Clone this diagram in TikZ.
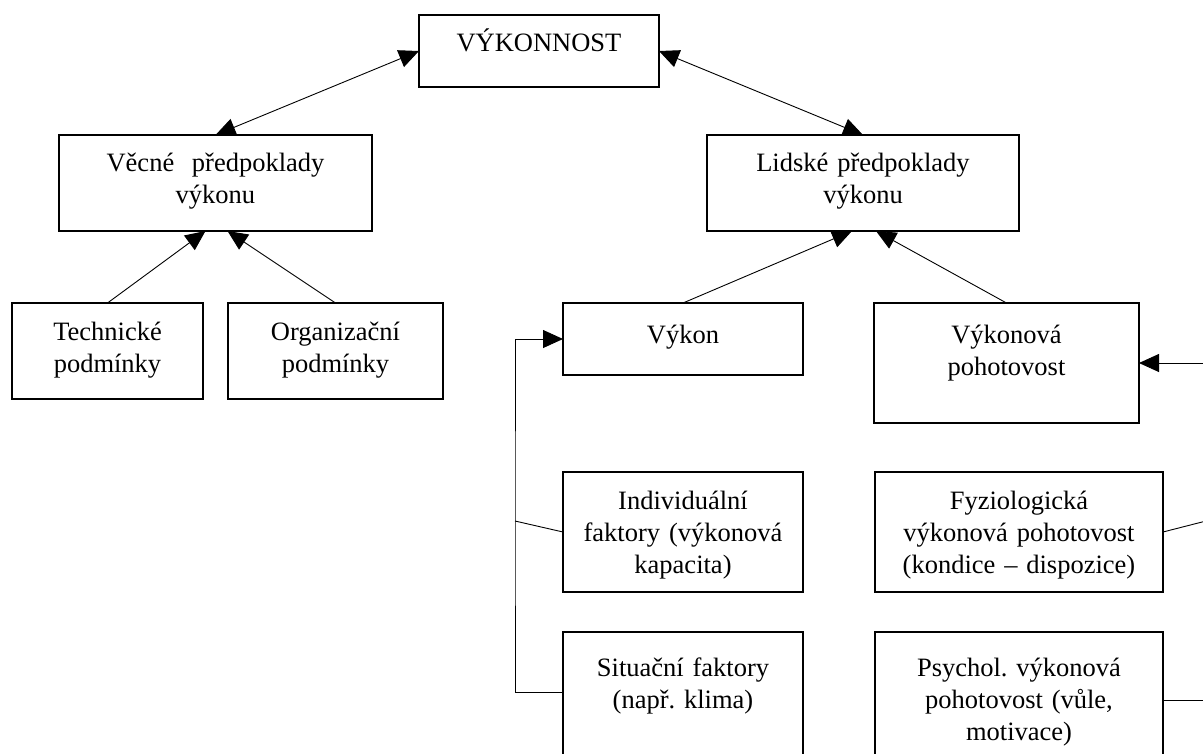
\documentclass[tikz,border=0pt]{standalone}
\usepackage{fontspec}
\setmainfont{Liberation Serif}
\usetikzlibrary{arrows.meta}
\begin{document}
\frenchspacing
\begin{tikzpicture}[x=1pt,y=-1pt,
  box/.style={draw, line width=1.1pt, inner sep=0pt, outer sep=0pt},
  txt/.style={anchor=base, align=center, inner sep=0pt, font=\fontsize{26.5}{32}\selectfont},
  conn/.style={line width=0.9pt},
  >={Triangle[length=20pt,width=18pt]}]
\useasboundingbox (0,0) rectangle (1203,753);
% boxes
\node[box, minimum width=240pt, minimum height=72pt] (vyk) at (539,51) {};
\node[box, minimum width=313pt, minimum height=96pt] (vec) at (215.5,183) {};
\node[box, minimum width=312pt, minimum height=96pt] (lid) at (863,183) {};
\node[box, minimum width=191pt, minimum height=96pt] (tech) at (107.5,351) {};
\node[box, minimum width=215pt, minimum height=96pt] (org) at (335.5,351) {};
\node[box, minimum width=240pt, minimum height=72pt] (vykon) at (683,339) {};
\node[box, minimum width=265pt, minimum height=120pt] (vykpoh) at (1006.5,363) {};
\node[box, minimum width=240pt, minimum height=120pt] (ind) at (683,532) {};
\node[box, minimum width=288pt, minimum height=120pt] (fyz) at (1019,532) {};
\node[box, minimum width=240pt, minimum height=128pt] (sit) at (683,696) {};
\node[box, minimum width=288pt, minimum height=128pt] (psy) at (1019,696) {};
% texts
\node[txt, text width=236pt] (vykT) at (539,51) {VÝKONNOST};
\node[txt, text width=309pt] (vecT) at (215.5,171) {Věcné\ \ předpoklady\\výkonu};
\node[txt, text width=308pt] (lidT) at (863,171) {Lidské předpoklady\\výkonu};
\node[txt, text width=187pt] (techT) at (107.5,340) {Technické\\podmínky};
\node[txt, text width=211pt] (orgT) at (335.5,340) {Organizační\\podmínky};
\node[txt, text width=236pt] (vykonT) at (683,343) {Výkon};
\node[txt, text width=261pt] (vykpohT) at (1006.5,343) {Výkonová\\pohotovost};
\node[txt, text width=236pt] (indT) at (683,509) {Individuální\\faktory (výkonová\\kapacita)};
\node[txt, text width=284pt] (fyzT) at (1019,509) {Fyziologická\\výkonová pohotovost\\(kondice – dispozice)};
\node[txt, text width=236pt] (sitT) at (683,676) {Situační faktory\\(např. klima)};
\node[txt, text width=284pt] (psyT) at (1019,676) {Psychol. výkonová\\pohotovost (vůle,\\motivace)};
% connectors
\draw[conn,<->] (vyk.west) -- (vec.north);
\draw[conn,<->] (vyk.east) -- (lid.north);
\draw[conn,->] (tech.north) -- ([xshift=-10pt]vec.south);
\draw[conn,->] (org.north) -- ([xshift=12pt]vec.south);
\draw[conn,->] (vykon.north) -- ([xshift=-11pt]lid.south);
\draw[conn,->] (vykpoh.north) -- ([xshift=13pt]lid.south);
\coordinate (lbus) at (515,521);
\draw[conn] (ind.west) -- (lbus);
\draw[conn,->] ([yshift=4pt]sit.west) -| (lbus) |- (vykon.west);
\coordinate (rbus) at (1206,521);
\draw[conn] (fyz.east) -- (rbus);
\draw[conn,->] ([yshift=-4pt]psy.east) -| (rbus) |- (vykpoh.east);
\end{tikzpicture}
\end{document}
